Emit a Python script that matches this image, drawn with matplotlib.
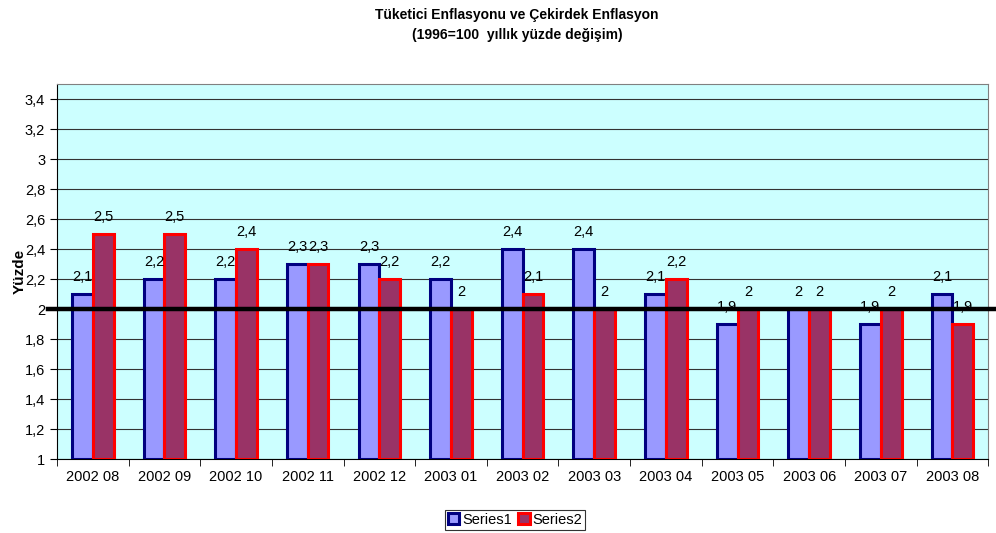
import numpy as np
import matplotlib.pyplot as plt
from matplotlib.ticker import FuncFormatter, FixedLocator

plt.rcParams['font.family'] = ['Liberation Sans', 'DejaVu Sans']

# Data
months = ['2002 08', '2002 09', '2002 10', '2002 11', '2002 12', '2003 01', '2003 02',
          '2003 03', '2003 04', '2003 05', '2003 06', '2003 07', '2003 08']
series1 = [2.1, 2.2, 2.2, 2.3, 2.3, 2.2, 2.4, 2.4, 2.1, 1.9, 2.0, 1.9, 2.1]
series2 = [2.5, 2.5, 2.4, 2.3, 2.2, 2.0, 2.1, 2.0, 2.2, 2.0, 2.0, 2.0, 1.9]
target = 2.0

def tr(v):
    return f"{v:g}".replace('.', ',')

fig = plt.figure(figsize=(9.96, 5.33), dpi=100)
ax = fig.add_axes([0.0572, 0.1388, 0.935, 0.7036])
ax.set_facecolor('#CCFFFF')

x = np.arange(len(months))
w = 0.29
bottom = 1.0
b1 = ax.bar(x - w/2, np.array(series1) - bottom, w, bottom=bottom, color='#9999FF',
            edgecolor='#000080', linewidth=2.2, label='Series1', zorder=3)
b2 = ax.bar(x + w/2, np.array(series2) - bottom, w, bottom=bottom, color='#993366',
            edgecolor='#FF0000', linewidth=2.2, label='Series2', zorder=3)

for xs, vals in ((x - w/2, series1), (x + w/2, series2)):
    for xi, v in zip(xs, vals):
        ax.annotate(tr(v), (xi, v), xytext=(0, 7.5), textcoords='offset points',
                    ha='center', va='bottom', fontsize=10.5, zorder=5)

# reference line at 2
ax.plot([-0.01, 1.01], [target, target], transform=ax.get_yaxis_transform(),
        color='black', linewidth=3.2, clip_on=False, zorder=6)

ax.set_xlim(-0.5, len(months) - 0.5)
ax.set_ylim(1, 3.5)
ax.set_yticks(np.arange(1, 3.41, 0.2))
ax.yaxis.set_major_formatter(FuncFormatter(lambda v, p: tr(round(v, 1))))
ax.grid(axis='y', color='#333333', linewidth=0.8, zorder=1)

ax.set_xticks(x)
ax.set_xticklabels(months)
ax.tick_params(axis='x', which='major', length=0, pad=8)
ax.xaxis.set_minor_locator(FixedLocator(np.arange(-0.5, len(months), 1)))
ax.tick_params(axis='x', which='minor', length=5, color='black')
ax.tick_params(axis='y', length=5, color='black')
ax.tick_params(labelsize=10.5)

for s in ('top', 'right'):
    ax.spines[s].set_color('#808080')
ax.spines['left'].set_color('black')
ax.spines['bottom'].set_color('black')

ax.set_ylabel('Yüzde', fontweight='bold', fontsize=11)
ax.yaxis.set_label_coords(-0.033, 0.5)

fig.text(0.519, 0.972, 'Tüketici Enflasyonu ve Çekirdek Enflasyon', ha='center', va='center',
         fontweight='bold', fontsize=10)
fig.text(0.519, 0.934, '(1996=100  yıllık yüzde değişim)', ha='center', va='center',
         fontweight='bold', fontsize=10)

leg = fig.legend(handles=[b1, b2], loc='center', bbox_to_anchor=(0.517, 0.025), ncol=2,
                 frameon=True, fancybox=False, edgecolor='black', fontsize=10.5,
                 handlelength=0.8, handleheight=0.8, handletextpad=0.2, columnspacing=0.4,
                 borderpad=0.2, borderaxespad=0)
leg.get_frame().set_linewidth(0.8)

fig.savefig('out.png', dpi=100)
